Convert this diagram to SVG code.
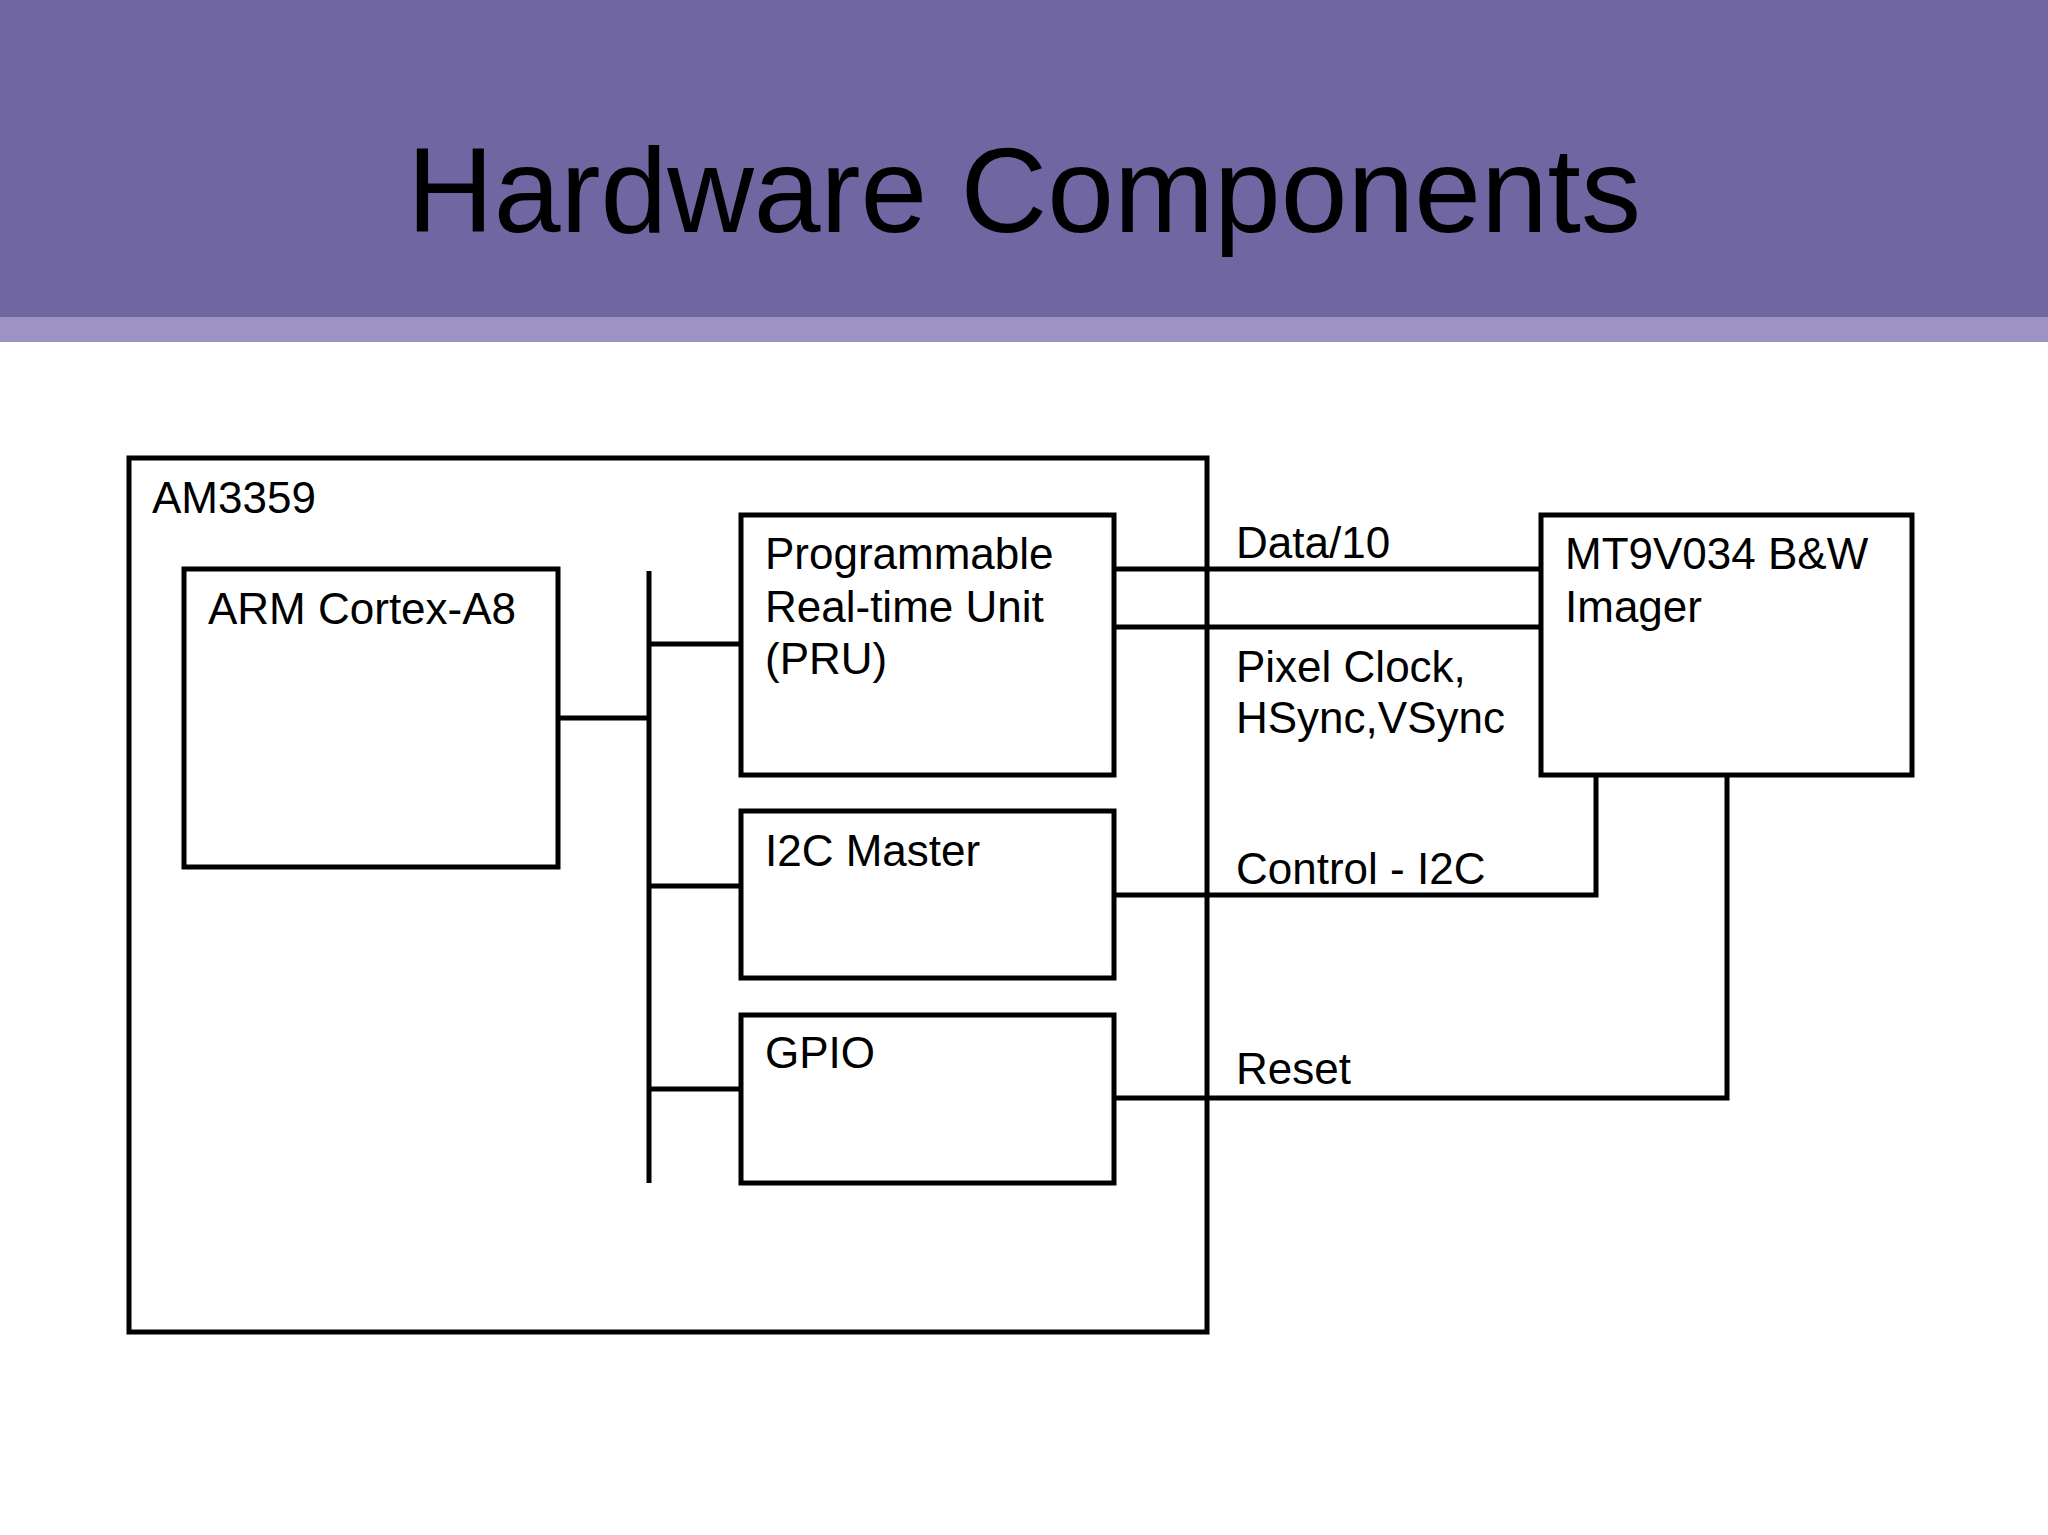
<svg xmlns="http://www.w3.org/2000/svg" width="2048" height="1535" viewBox="0 0 2048 1535">
<style>
.b{fill:none;stroke:#000;stroke-width:5}
.l{fill:none;stroke:#000;stroke-width:5}
text{font-family:"Liberation Sans",Arial,sans-serif;font-size:44px;fill:#000}
</style>
<rect width="2048" height="1535" fill="#fff"/>
<rect x="0" y="0" width="2048" height="317" fill="#7066a2"/>
<rect x="0" y="317" width="2048" height="25" fill="#9c93c4"/>
<text x="1024" y="232" text-anchor="middle" style="font-size:120px" fill="#000">Hardware Components</text>
<g id="am3359"><rect class="b" x="129" y="458" width="1078" height="874"/><text x="152" y="513">AM3359</text></g>
<g id="arm"><rect class="b" x="184" y="569" width="374" height="298"/><text x="208" y="624">ARM Cortex-A8</text></g>
<g id="pru"><rect class="b" x="741" y="515" width="373" height="260"/><text x="765" y="569">Programmable</text><text x="765" y="622">Real-time Unit</text><text x="765" y="674">(PRU)</text></g>
<g id="i2c"><rect class="b" x="741" y="811" width="373" height="167"/><text x="765" y="866">I2C Master</text></g>
<g id="gpio"><rect class="b" x="741" y="1015" width="373" height="168"/><text x="765" y="1068">GPIO</text></g>
<g id="imager"><rect class="b" x="1541" y="515" width="371" height="260"/><text x="1565" y="569">MT9V034 B&amp;W</text><text x="1565" y="622">Imager</text></g>
<g id="connectors">
<path class="l" d="M649 571V1183"/>
<path class="l" d="M558 718H649"/>
<path class="l" d="M649 644H741"/>
<path class="l" d="M649 886H741"/>
<path class="l" d="M649 1089H741"/>
<path class="l" d="M1114 569H1541"/>
<path class="l" d="M1114 627H1541"/>
<path class="l" d="M1114 895H1596V775"/>
<path class="l" d="M1114 1098H1727V775"/>
<text x="1236" y="558">Data/10</text>
<text x="1236" y="682">Pixel Clock,</text>
<text x="1236" y="733">HSync,VSync</text>
<text x="1236" y="884">Control - I2C</text>
<text x="1236" y="1084">Reset</text>
</g>
</svg>
